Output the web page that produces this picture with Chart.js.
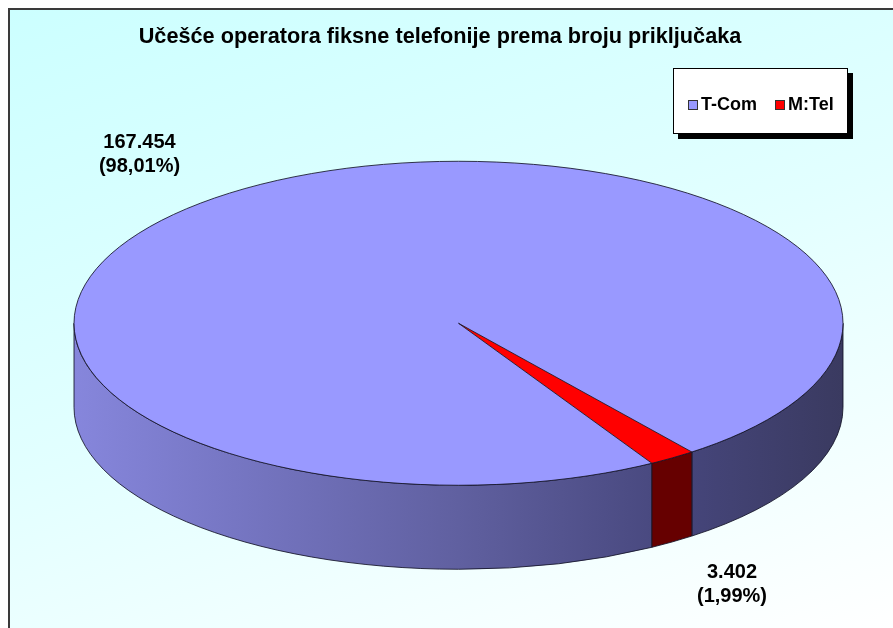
<!DOCTYPE html>
<html>
<head>
<meta charset="utf-8">
<title>Učešće operatora fiksne telefonije</title>
<script src="https://cdn.jsdelivr.net/npm/chart.js@4.4.1/dist/chart.umd.min.js"></script>
<style>
  html, body { margin: 0; padding: 0; background: #fff; overflow: hidden; }
  #frame {
    position: absolute; left: 8px; top: 8px; width: 885px; height: 620px;
    border-left: 2px solid #3a3a3a; border-top: 2px solid #3a3a3a;
    background: linear-gradient(160deg, #ccffff 0%, #e2ffff 50%, #ffffff 100%);
  }
  #box { position: absolute; left: 0; top: 0; width: 893px; height: 628px; }
  #legend {
    position: absolute; left: 673px; top: 68px; width: 159px; height: 57px;
    padding: 7px 0 0 14px;
    background: #fff; border: 1px solid #000; box-shadow: 5px 5px 0 #000;
    display: flex; align-items: center; gap: 18px;
    font: bold 18px "Liberation Sans", Arial, sans-serif; color: #000;
  }
  .item { display: flex; align-items: center; }
  .sw { width: 8px; height: 8px; border: 1px solid #333; margin-right: 3px; }
</style>
</head>
<body>
<div id="frame"></div>
<div id="box"><canvas id="pieChart" width="893" height="628"></canvas></div>
<div id="legend"></div>
<script>
// data
const operators = ['T-Com', 'M:Tel'];
const connections = [167454, 3402];
const chartTitle = 'Učešće operatora fiksne telefonije prema broju priključaka';

// look
const FONT = '"Liberation Sans", Arial, sans-serif';
const topColors = ['#9999ff', '#ff0000'];
const wallColors = [null, '#660000'];   // null -> shaded gradient
const EDGE = 'rgba(20, 20, 40, 0.85)';
const RX = 384.5, RY = 162, DEPTH = 84, SHIFT_X = 18.5;
const LABEL_AT = [[139.5, 148], [732, 578]];
const TAU = Math.PI * 2;

const total = connections.reduce((a, b) => a + b, 0);
const fmtValue = v => String(v).replace(/\B(?=(\d{3})+(?!\d))/g, '.');
const fmtShare = v => '(' + (v / total * 100).toFixed(2).replace('.', ',') + '%)';

// fake 3D: squash the pie into an ellipse and draw a wall under it
const pie3d = {
  id: 'pie3d',
  beforeDatasetsDraw(chart) {
    const { ctx } = chart;
    const arcs = chart.getDatasetMeta(0).data;
    const ox = arcs[0].x, oy = arcs[0].y, R = arcs[0].outerRadius;
    const cx = ox + SHIFT_X, cy = oy;

    const grad = ctx.createLinearGradient(cx - R, 0, cx + R, 0);
    grad.addColorStop(0, '#8686dc');
    grad.addColorStop(0.5, '#6060a0');
    grad.addColorStop(0.8, '#45457a');
    grad.addColorStop(1, '#3a3a60');

    ctx.save();
    ctx.lineWidth = 1;
    ctx.strokeStyle = EDGE;
    arcs.forEach((arc, i) => {
      const s = ((arc.startAngle % TAU) + TAU) % TAU;
      const e = s + (arc.endAngle - arc.startAngle);
      [0, TAU].forEach(off => {
        const lo = Math.max(s, off), hi = Math.min(e, off + Math.PI);
        if (hi <= lo) return;
        ctx.beginPath();
        ctx.ellipse(cx, cy, R, RY, 0, lo - off, hi - off);
        ctx.ellipse(cx, cy + DEPTH, R, RY, 0, hi - off, lo - off, true);
        ctx.closePath();
        ctx.fillStyle = wallColors[i] || grad;
        ctx.fill();
        ctx.stroke();
      });
    });
    ctx.restore();

    // top face: library draws the arcs, we just squash them
    ctx.save();
    ctx.translate(cx, cy);
    ctx.scale(1, RY / R);
    ctx.translate(-ox, -oy);
  },
  afterDatasetsDraw(chart) {
    const { ctx } = chart;
    ctx.restore();
    const arcs = chart.getDatasetMeta(0).data;
    const R = arcs[0].outerRadius;
    const cx = arcs[0].x + SHIFT_X, cy = arcs[0].y;

    ctx.save();
    ctx.lineWidth = 1;
    ctx.strokeStyle = EDGE;
    ctx.beginPath();
    ctx.ellipse(cx, cy, R, RY, 0, 0, TAU);
    ctx.stroke();
    arcs.forEach(arc => {
      ctx.beginPath();
      ctx.moveTo(cx, cy);
      ctx.lineTo(cx + R * Math.cos(arc.startAngle), cy + RY * Math.sin(arc.startAngle));
      ctx.stroke();
    });

    ctx.font = 'bold 20px ' + FONT;
    ctx.fillStyle = '#000';
    ctx.textAlign = 'center';
    ctx.textBaseline = 'alphabetic';
    LABEL_AT.forEach(([x, y], i) => {
      ctx.fillText(fmtValue(connections[i]), x, y);
      ctx.fillText(fmtShare(connections[i]), x, y + 23.5);
    });
    ctx.restore();
  }
};

const ctx = document.getElementById('pieChart').getContext('2d');
const pieChart = new Chart(ctx, {
  type: 'pie',
  data: {
    labels: operators,
    datasets: [{
      data: connections,
      backgroundColor: topColors,
      borderWidth: 0,
      radius: RX,
      clip: false,
      hoverOffset: 0
    }]
  },
  options: {
    responsive: false,
    animation: false,
    events: [],
    rotation: 149.8,
    layout: { padding: { left: 0, right: 13, top: 0, bottom: 31.5 } },
    plugins: {
      legend: { display: false },
      tooltip: { enabled: false },
      title: {
        display: true,
        text: chartTitle,
        color: '#000',
        font: { family: FONT, size: 21.7, weight: 'bold' },
        padding: { top: 24, bottom: 0 }
      }
    }
  },
  plugins: [pie3d]
});

// legend box
document.getElementById('legend').innerHTML = operators.map((name, i) =>
  '<span class="item"><span class="sw" style="background:' + topColors[i] + '"></span>' + name + '</span>'
).join('');
</script>
</body>
</html>
